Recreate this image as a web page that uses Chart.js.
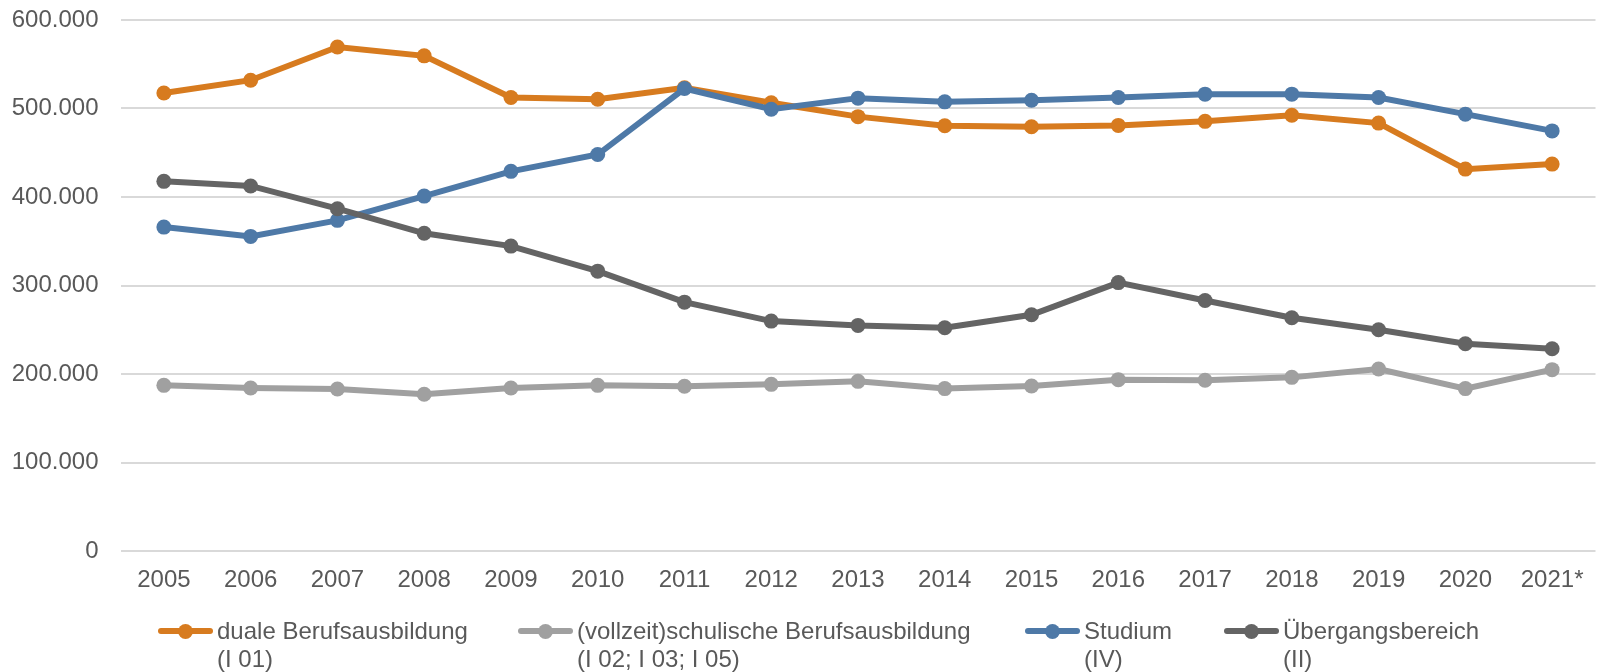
<!DOCTYPE html>
<html lang="de">
<head>
<meta charset="utf-8">
<script src="https://cdn.jsdelivr.net/npm/chart.js@4/dist/chart.umd.min.js"></script>
<style>
  html, body { margin: 0; padding: 0; background: #fff; }
  #wrap { position: relative; width: 1603px; height: 672px; }
  #chart { position: absolute; left: 0; top: 0; }
  .leg { position: absolute; top: 617px; font: 24px 'Liberation Sans', Arial, sans-serif; color: #595959; line-height: 28px; white-space: nowrap; }
  .leg .swatch { position: absolute; top: 11px; height: 6px; border-radius: 3px; }
  .leg .dot { position: absolute; top: 6.5px; width: 15px; height: 15px; border-radius: 50%; }
</style>
</head>
<body>
<div id="wrap">
  <canvas id="chart" width="1603" height="672"></canvas>
  <div id="legend"></div>
</div>
<script>
// years on the category axis
const years = ['2005', '2006', '2007', '2008', '2009', '2010', '2011', '2012', '2013',
  '2014', '2015', '2016', '2017', '2018', '2019', '2020', '2021*'];

// values (persons)
const duale = [517500, 532000, 569500, 559500, 512500, 510500, 523500, 506500, 490800,
  480500, 479300, 480900, 485500, 492300, 483500, 431500, 437200];
const schulisch = [187200, 184200, 183100, 177100, 184200, 187200, 186100, 188300, 191700,
  183500, 186500, 193600, 192900, 196200, 205600, 183500, 204900];
const studium = [366000, 355500, 373600, 401000, 429000, 448000, 522600, 499200, 511700,
  507500, 509400, 512500, 516200, 516200, 512500, 493600, 474700];
const uebergang = [417700, 412500, 386800, 359000, 344500, 316200, 281200, 259800, 254900,
  252300, 266900, 303300, 283100, 263500, 250000, 234200, 228600];

const seriesNames = [
  ['duale Berufsausbildung', '(I 01)'],
  ['(vollzeit)schulische Berufsausbildung', '(I 02; I 03; I 05)'],
  ['Studium', '(IV)'],
  ['Übergangsbereich', '(II)']
];
const colors = ['#D77B1F', '#A0A0A0', '#4E79A7', '#646464'];
const legendX = [158, 518, 1025, 1224];

const fmt = v => String(v).replace(/\B(?=(\d{3})+(?!\d))/g, '.');

Chart.defaults.font.family = "'Liberation Sans', Arial, sans-serif";
Chart.defaults.font.size = 24;
Chart.defaults.color = '#595959';

const mk = (i, data) => ({
  label: seriesNames[i].join(' '),
  data,
  borderColor: colors[i],
  backgroundColor: colors[i],
  borderWidth: 6,
  pointRadius: 7.5,
  pointBorderWidth: 0,
  pointHoverRadius: 7.5,
  tension: 0,
  order: 4 - i
});

new Chart(document.getElementById('chart'), {
  type: 'line',
  data: {
    labels: years,
    datasets: [mk(0, duale), mk(1, schulisch), mk(2, studium), mk(3, uebergang)]
  },
  options: {
    responsive: false,
    animation: false,
    layout: { padding: { top: 20, right: 0, left: 0, bottom: 0 } },
    plugins: { legend: { display: false }, tooltip: { enabled: false } },
    scales: {
      x: {
        offset: true,
        grid: { display: false, drawTicks: false },
        border: { display: false },
        ticks: { padding: 15, maxRotation: 0, autoSkip: false },
        afterFit: s => { s.height = 121; s.paddingLeft = 0; s.paddingRight = 0; }
      },
      y: {
        min: 0,
        max: 600000,
        grid: { color: '#D9D9D9', lineWidth: 2, drawTicks: false },
        border: { display: false },
        ticks: { stepSize: 100000, padding: 22, callback: v => fmt(v) },
        afterFit: s => { s.width = 120.5; s.paddingTop = 0; s.paddingBottom = 0; }
      }
    }
  }
});

// legend as html text, two lines per entry
const leg = document.getElementById('legend');
seriesNames.forEach((lines, i) => {
  const d = document.createElement('div');
  d.className = 'leg';
  d.style.left = legendX[i] + 'px';
  d.style.paddingLeft = '59px';
  d.innerHTML = '<span class="swatch" style="left:0;width:55px;background:' + colors[i] + '"></span>' +
    '<span class="dot" style="left:20px;background:' + colors[i] + '"></span>' +
    lines.join('<br>');
  leg.appendChild(d);
});
</script>
</body>
</html>
